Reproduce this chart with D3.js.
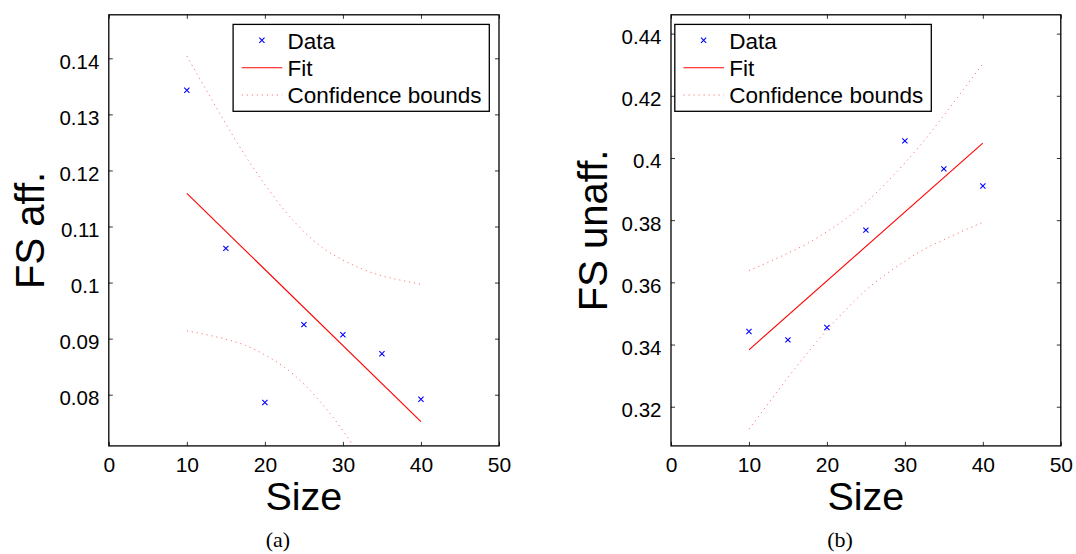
<!DOCTYPE html>
<html>
<head>
<meta charset="utf-8">
<script src="https://cdn.jsdelivr.net/npm/d3@7"></script>
<style>
  html, body { margin: 0; padding: 0; background: #ffffff; }
  svg { display: block; }
</style>
</head>
<body>
<svg id="chart" width="1076" height="554"></svg>
<script>
// ---------------- data ----------------
const sizes = [10, 15, 20, 25, 30, 35, 40];
const fsAff = [0.1343, 0.1061, 0.0786, 0.0925, 0.0907, 0.0873, 0.0792];
const fsUnaff = [0.3442, 0.3415, 0.3455, 0.3768, 0.4055, 0.3965, 0.3910];

const fitX = [10, 40];
const fitAff = [0.1159, 0.0752];
const fitUnaff = [0.3383, 0.4048];

const boundX = [10, 12.5, 15, 17.5, 20, 22.5, 25, 27.5, 30, 32.5, 35, 37.5, 40];
const affUpper = [0.1404, 0.1343, 0.1283, 0.1226, 0.1175, 0.1129, 0.1091, 0.1061, 0.1040, 0.1024, 0.1012, 0.1004, 0.0997];
const affLower = [0.0914, 0.0907, 0.0899, 0.0888, 0.0871, 0.0849, 0.0819, 0.0781, 0.0736, 0.0684, 0.0628, 0.0568, 0.0507];
const unaffUpper = [0.3638, 0.3665, 0.3694, 0.3725, 0.3763, 0.3806, 0.3857, 0.3917, 0.3984, 0.4057, 0.4137, 0.4220, 0.4303];
const unaffLower = [0.3128, 0.3211, 0.3294, 0.3373, 0.3447, 0.3514, 0.3575, 0.3625, 0.3668, 0.3707, 0.3737, 0.3766, 0.3793];

const xTicks = [0, 10, 20, 30, 40, 50];
const xTickLabels = ["0", "10", "20", "30", "40", "50"];
const affTicks = [0.08, 0.09, 0.10, 0.11, 0.12, 0.13, 0.14];
const affTickLabels = ["0.08", "0.09", "0.1", "0.11", "0.12", "0.13", "0.14"];
const unaffTicks = [0.32, 0.34, 0.36, 0.38, 0.40, 0.42, 0.44];
const unaffTickLabels = ["0.32", "0.34", "0.36", "0.38", "0.4", "0.42", "0.44"];

const xDomain = [0, 50];
const affDomain = [0.07087, 0.14776];
const unaffDomain = [0.3074, 0.44605];

const legendLabels = ["Data", "Fit", "Confidence bounds"];
const xLabel = "Size";
const yLabels = ["FS aff.", "FS unaff."];
const captions = ["(a)", "(b)"];

// ---------------- drawing ----------------
const svg = d3.select("#chart");
const FONT = "'Liberation Sans', Arial, Helvetica, sans-serif";

function panel(opts) {
  const { id, left, right, top, bottom, yDomain, yTicks, yTickLabels, yData,
          fitY, upper, lower, yLabel, yLabelX, legendX, legendW, caption, captionX } = opts;
  const g = svg.append("g");
  const x = d3.scaleLinear().domain(xDomain).range([left, right]);
  const y = d3.scaleLinear().domain(yDomain).range([bottom, top]);

  g.append("clipPath").attr("id", "clip" + id)
    .append("rect").attr("x", left).attr("y", top).attr("width", right - left).attr("height", bottom - top);

  const plot = g.append("g").attr("clip-path", `url(#clip${id})`);

  const line = d3.line().x(d => x(d[0])).y(d => y(d[1]));
  const curve = d3.line().x(d => x(d[0])).y(d => y(d[1])).curve(d3.curveMonotoneX);

  // confidence bounds
  [upper, lower].forEach(arr => {
    plot.append("path")
      .datum(boundX.map((v, i) => [v, arr[i]]))
      .attr("d", curve)
      .attr("fill", "none")
      .attr("stroke", "#ff0000")
      .attr("stroke-opacity", 0.55)
      .attr("stroke-width", 1)
      .attr("stroke-dasharray", "1.2,3.8");
  });

  // fit
  plot.append("path")
    .datum(fitX.map((v, i) => [v, fitY[i]]))
    .attr("d", line)
    .attr("fill", "none")
    .attr("stroke", "#ff0000")
    .attr("stroke-width", 1.1);

  // data markers
  const ms = 2.6;
  plot.selectAll(".pt").data(sizes.map((v, i) => [v, yData[i]])).enter()
    .append("path")
    .attr("d", d => {
      const cx = x(d[0]), cy = y(d[1]);
      return `M${cx - ms},${cy - ms}L${cx + ms},${cy + ms}M${cx - ms},${cy + ms}L${cx + ms},${cy - ms}`;
    })
    .attr("stroke", "#0000ff")
    .attr("stroke-width", 1.1)
    .attr("fill", "none");

  // axes (inner ticks on all sides, like MATLAB box on)
  const tl = 4;
  const axB = d3.axisBottom(x).tickValues(xTicks).tickSizeInner(-tl).tickSizeOuter(0).tickFormat((d, i) => xTickLabels[i]).tickPadding(11);
  const axT = d3.axisTop(x).tickValues(xTicks).tickSizeInner(-tl).tickSizeOuter(0).tickFormat("");
  const axL = d3.axisLeft(y).tickValues(yTicks).tickSizeInner(-tl).tickSizeOuter(0).tickFormat((d, i) => yTickLabels[i]).tickPadding(9.5);
  const axR = d3.axisRight(y).tickValues(yTicks).tickSizeInner(-tl).tickSizeOuter(0).tickFormat("");

  const gB = g.append("g").attr("transform", `translate(0,${bottom})`).call(axB);
  const gT = g.append("g").attr("transform", `translate(0,${top})`).call(axT);
  const gL = g.append("g").attr("transform", `translate(${left},0)`).call(axL);
  const gR = g.append("g").attr("transform", `translate(${right},0)`).call(axR);
  [gB, gT, gL, gR].forEach(a => {
    a.select(".domain").remove();
    a.selectAll(".tick line").attr("stroke", "#333").attr("stroke-width", 1);
    a.selectAll("text").attr("font-family", FONT).attr("font-size", 20.5).attr("fill", "#000");
  });
  gB.selectAll("text").attr("font-size", 21).attr("dy", "0.71em");
  gL.selectAll("text").attr("dy", "0.48em");

  // box
  g.append("rect").attr("x", left).attr("y", top).attr("width", right - left).attr("height", bottom - top)
    .attr("fill", "none").attr("stroke", "#000").attr("stroke-width", 1.3);

  // axis labels
  g.append("text").attr("x", (left + right) / 2).attr("y", 509.5)
    .attr("text-anchor", "middle").attr("font-family", FONT).attr("font-size", 39.5).text(xLabel);
  g.append("text").attr("transform", `translate(${yLabelX},${(top + bottom) / 2}) rotate(-90)`)
    .attr("text-anchor", "middle").attr("font-family", FONT).attr("font-size", 40).text(yLabel);

  // legend
  const lg = g.append("g");
  lg.append("rect").attr("x", legendX).attr("y", 24.4).attr("width", legendW).attr("height", 86.9)
    .attr("fill", "#fff").attr("stroke", "#000").attr("stroke-width", 1.3);
  const rows = [48.5, 75.8, 102.5];
  const mx = legendX + 28.8, my = 40.3;
  lg.append("path")
    .attr("d", `M${mx - ms},${my - ms}L${mx + ms},${my + ms}M${mx - ms},${my + ms}L${mx + ms},${my - ms}`)
    .attr("stroke", "#0000ff").attr("stroke-width", 1.1);
  lg.append("line").attr("x1", legendX + 8.7).attr("x2", legendX + 49.2).attr("y1", 67.7).attr("y2", 67.7)
    .attr("stroke", "#ff0000").attr("stroke-width", 1.1);
  lg.append("line").attr("x1", legendX + 8.7).attr("x2", legendX + 49.2).attr("y1", 95).attr("y2", 95)
    .attr("stroke", "#ff0000").attr("stroke-opacity", 0.55).attr("stroke-width", 1).attr("stroke-dasharray", "1.2,3.8");
  legendLabels.forEach((t, i) => {
    lg.append("text").attr("x", legendX + 54.5).attr("y", rows[i])
      .attr("font-family", FONT).attr("font-size", 22.5).text(t);
  });

  // caption
  g.append("text").attr("x", captionX).attr("y", 546.5).attr("text-anchor", "middle")
    .attr("font-family", "'Liberation Serif', 'DejaVu Serif', serif").attr("font-size", 22).text(caption);
}

panel({ id: "a", left: 108.8, right: 499, top: 14.8, bottom: 445.9,
  yDomain: affDomain, yTicks: affTicks, yTickLabels: affTickLabels, yData: fsAff,
  fitY: fitAff, upper: affUpper, lower: affLower, yLabel: yLabels[0], yLabelX: 43.5,
  legendX: 233.1, legendW: 256.2, caption: captions[0], captionX: 278 });

panel({ id: "b", left: 671, right: 1060.8, top: 14.8, bottom: 445.9,
  yDomain: unaffDomain, yTicks: unaffTicks, yTickLabels: unaffTickLabels, yData: fsUnaff,
  fitY: fitUnaff, upper: unaffUpper, lower: unaffLower, yLabel: yLabels[1], yLabelX: 606.5,
  legendX: 674.8, legendW: 256.5, caption: captions[1], captionX: 840 });
</script>
</body>
</html>
